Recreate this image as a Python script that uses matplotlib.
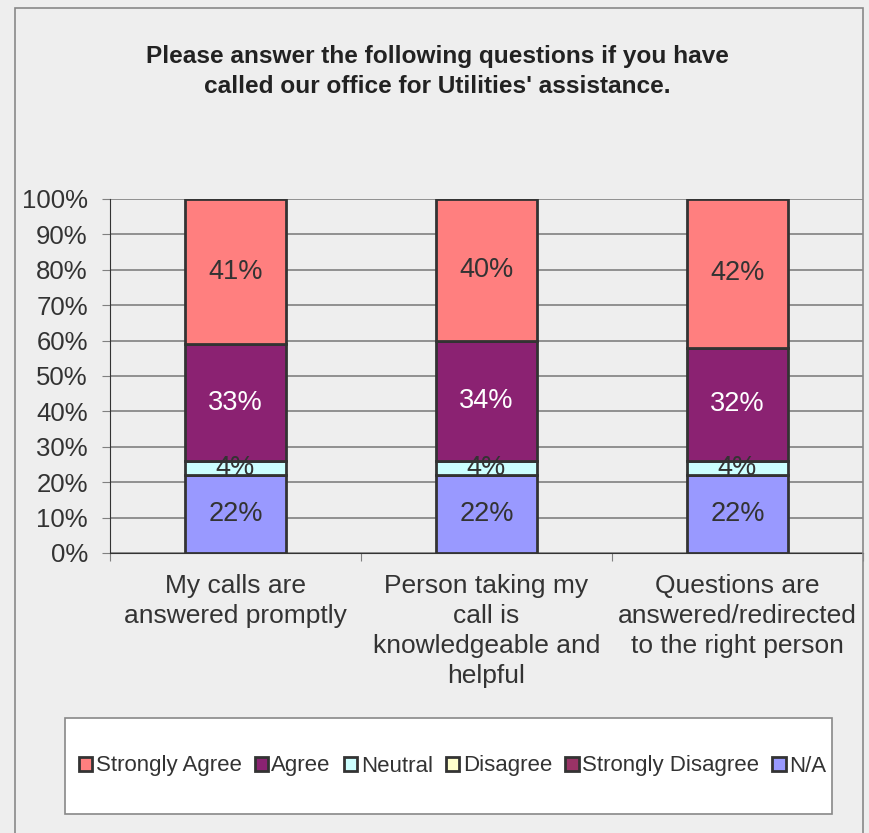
import matplotlib
matplotlib.use("Agg")
import matplotlib.pyplot as plt
from matplotlib.patches import Rectangle
import numpy as np

plt.rcParams['font.family'] = ['Liberation Sans', 'DejaVu Sans']

categories = ["My calls are\nanswered promptly",
              "Person taking my\ncall is\nknowledgeable and\nhelpful",
              "Questions are\nanswered/redirected\nto the right person"]
series_names = ["N/A", "Strongly Disagree", "Disagree", "Neutral", "Agree", "Strongly Agree"]
na = [22, 22, 22]
strongly_disagree = [0, 0, 0]
disagree = [0, 0, 0]
neutral = [4, 4, 4]
agree = [33, 34, 32]
strongly_agree = [41, 40, 42]
yticks = [0, 10, 20, 30, 40, 50, 60, 70, 80, 90, 100]
title = "Please answer the following questions if you have\ncalled our office for Utilities' assistance."

colors = {"N/A": "#9999FF", "Strongly Disagree": "#993366", "Disagree": "#FFFFCC",
          "Neutral": "#CCFFFF", "Agree": "#8B2272", "Strongly Agree": "#FF7F7F"}
label_colors = {"N/A": "#333333", "Neutral": "#333333", "Agree": "white", "Strongly Agree": "#333333"}

W, H = 870, 833
fig = plt.figure(figsize=(W/100, H/100), dpi=100, facecolor="#EEEEEE")
border = Rectangle((15/W, -0.01), (863-15)/W, 1 - 8/H + 0.01, transform=fig.transFigure,
                   facecolor="none", edgecolor="#888888", linewidth=1.2, zorder=5)
fig.add_artist(border)

ax = fig.add_axes([110/W, 1-553/H, (863-110)/W, (553-199)/H], zorder=2)
ax.set_facecolor("#EEEEEE")
x = np.arange(len(categories))
data = {"N/A": na, "Strongly Disagree": strongly_disagree, "Disagree": disagree,
        "Neutral": neutral, "Agree": agree, "Strongly Agree": strongly_agree}
bottom = np.zeros(len(categories))
for name in series_names:
    vals = np.array(data[name], dtype=float)
    ax.bar(x, vals, width=0.4, bottom=bottom, color=colors[name], edgecolor="#333333",
           linewidth=2, zorder=3)
    for xi, v, bt in zip(x, vals, bottom):
        if v > 0:
            ax.text(xi, bt + v/2, f"{v:.0f}%", ha="center", va="center", fontsize=19.5,
                    color=label_colors.get(name, "#333333"), zorder=4)
    bottom += vals

ax.set_xlim(-0.5, len(categories) - 0.5)
ax.set_ylim(0, 100)
ax.set_yticks(yticks)
ax.set_yticklabels([f"{t}%" for t in yticks], fontsize=18.5, color="#333333")
ax.yaxis.grid(True, color="#808080", linewidth=1.2, zorder=0)
ax.set_axisbelow(True)
ax.tick_params(axis="y", direction="out", length=6, color="#808080", pad=10)
ax.set_xticks(np.arange(-0.5, len(categories)))
ax.set_xticklabels([])
ax.tick_params(axis="x", direction="out", length=6, color="#808080")
for xi, c in zip(x, categories):
    ax.text(xi, -5.8, c, ha="center", va="top", fontsize=19, color="#333333",
            linespacing=1.32, transform=ax.transData)
for s in ["top", "right"]:
    ax.spines[s].set_visible(False)
ax.spines["left"].set_color("#333333")
ax.spines["bottom"].set_color("#333333")

fig.text(437/W, 1-71.5/H, title, ha="center", va="center", fontsize=17.6, fontweight="bold",
         color="#222222", linespacing=1.4)

fig.add_artist(Rectangle((65/W, 1-814/H), (832-65)/W, (814-718)/H, transform=fig.transFigure,
                         facecolor="white", edgecolor="#888888", linewidth=1.2, zorder=1))
order = ["Strongly Agree", "Agree", "Neutral", "Disagree", "Strongly Disagree", "N/A"]
legend_handles = [Rectangle((0, 0), 1, 1, facecolor=colors[n], edgecolor="#333333", linewidth=2) for n in order]
leg = fig.legend(legend_handles, order, loc="center", bbox_to_anchor=((77+828)/2/W, 1-766/H),
                 ncol=6, fontsize=16, frameon=False, handlelength=0.6, handleheight=0.6,
                 handletextpad=0.15, columnspacing=0.6, labelcolor="#333333")
leg.set_zorder(3)

fig.savefig("out.png", dpi=100, facecolor=fig.get_facecolor())
